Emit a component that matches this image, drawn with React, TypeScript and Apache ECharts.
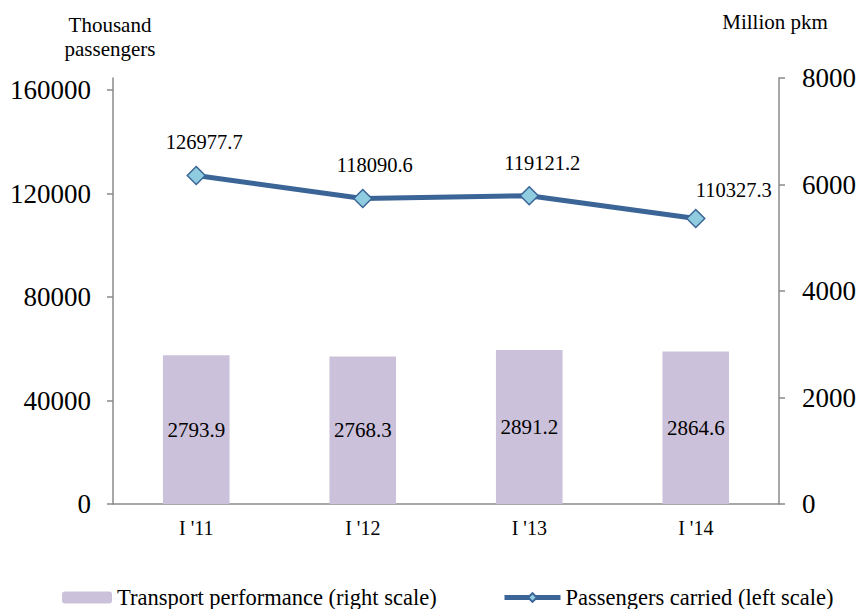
import React, { useEffect, useRef } from "react";
import * as echarts from "echarts";

const categories = ["I '11", "I '12", "I '13", "I '14"];
const passengers = [126977.7, 118090.6, 119121.2, 110327.3];
const performance = [2793.9, 2768.3, 2891.2, 2864.6];
const leftTicks = [0, 40000, 80000, 120000, 160000];
const lineLabelOffsets = [[8, 0], [12, 0], [13, 0], [38, 5]];

const FONT = "'Liberation Serif', 'Times New Roman', serif";
const AXIS_COLOR = "#8a8a8a";

export default function App() {
  const ref = useRef<HTMLDivElement>(null);
  useEffect(() => {
    if (!ref.current) return;
    const chart = echarts.init(ref.current, null, { renderer: "svg" });
    const option = {
      animation: false,
      textStyle: { fontFamily: FONT, color: "#000" },
      grid: { left: 113, right: 78, top: 78, bottom: 105, containLabel: false },
      graphic: [
        {
          type: "text",
          x: 110,
          y: 37,
          style: {
            text: "Thousand\npassengers",
            fontFamily: FONT,
            fontSize: 21,
            lineHeight: 24,
            fill: "#000",
            align: "center",
            verticalAlign: "middle",
          },
        },
        {
          type: "text",
          x: 775,
          y: 22,
          style: {
            text: "Million pkm",
            fontFamily: FONT,
            fontSize: 21,
            fill: "#000",
            align: "center",
            verticalAlign: "middle",
          },
        },
      ],
      legend: [
        {
          left: 62,
          top: 586,
          padding: 0,
          itemWidth: 50,
          itemHeight: 12,
          data: ["Transport performance (right scale)"],
          textStyle: { fontFamily: FONT, fontSize: 22.5, color: "#000" },
        },
        {
          left: 502,
          top: 586,
          padding: 0,
          itemWidth: 56,
          itemHeight: 11,
          lineStyle: { width: 5 },
          data: ["Passengers carried (left scale)"],
          textStyle: { fontFamily: FONT, fontSize: 22.5, color: "#000" },
        },
      ],
      xAxis: {
        type: "category",
        data: categories,
        axisLine: { lineStyle: { color: AXIS_COLOR, width: 1.5 } },
        axisTick: { show: false },
        axisLabel: { fontFamily: FONT, fontSize: 20, color: "#000", margin: 14 },
      },
      yAxis: [
        {
          type: "value",
          min: 0,
          max: (160000 * 426) / 414,
          position: "left",
          axisLine: { show: true, lineStyle: { color: AXIS_COLOR, width: 1.5 } },
          axisTick: { show: true, length: 6, customValues: leftTicks, lineStyle: { color: AXIS_COLOR, width: 1.5 } },
          axisLabel: {
            fontFamily: FONT,
            fontSize: 27,
            color: "#000",
            margin: 22,
            customValues: leftTicks,
            formatter: (v: number) => String(v),
          },
          splitLine: { show: false },
        },
        {
          type: "value",
          min: 0,
          max: 8000,
          interval: 2000,
          position: "right",
          axisLine: { show: true, lineStyle: { color: AXIS_COLOR, width: 1.5 } },
          axisTick: { show: true, length: 6, lineStyle: { color: AXIS_COLOR, width: 1.5 } },
          axisLabel: {
            fontFamily: FONT,
            fontSize: 27,
            color: "#000",
            margin: 23,
            formatter: (v: number) => String(v),
          },
          splitLine: { show: false },
        },
      ],
      series: [
        {
          name: "Transport performance (right scale)",
          type: "bar",
          yAxisIndex: 1,
          data: performance,
          barWidth: "40%",
          itemStyle: { color: "#CCC1DA" },
          label: {
            show: true,
            position: "inside",
            fontFamily: FONT,
            fontSize: 21,
            color: "#000",
            formatter: (p: any) => Number(p.value).toFixed(1),
          },
        },
        {
          name: "Passengers carried (left scale)",
          type: "line",
          yAxisIndex: 0,
          data: passengers.map((v, i) => ({
            value: v,
            label: { offset: lineLabelOffsets[i] },
          })),
          symbol: "diamond",
          symbolSize: 18,
          lineStyle: { color: "#3B6497", width: 5 },
          itemStyle: { color: "#8FCCE0", borderColor: "#3B6497", borderWidth: 1.5 },
          label: {
            show: true,
            position: "top",
            distance: 13,
            fontFamily: FONT,
            fontSize: 20.5,
            color: "#000",
            formatter: (p: any) => Number(p.value).toFixed(1),
          },
        },
      ],
    };
    chart.setOption(option as any);
    return () => chart.dispose();
  }, []);
  return (
    <div
      ref={ref}
      style={{ position: "fixed", left: 0, top: 0, width: 859, height: 609, background: "#fff" }}
    />
  );
}
